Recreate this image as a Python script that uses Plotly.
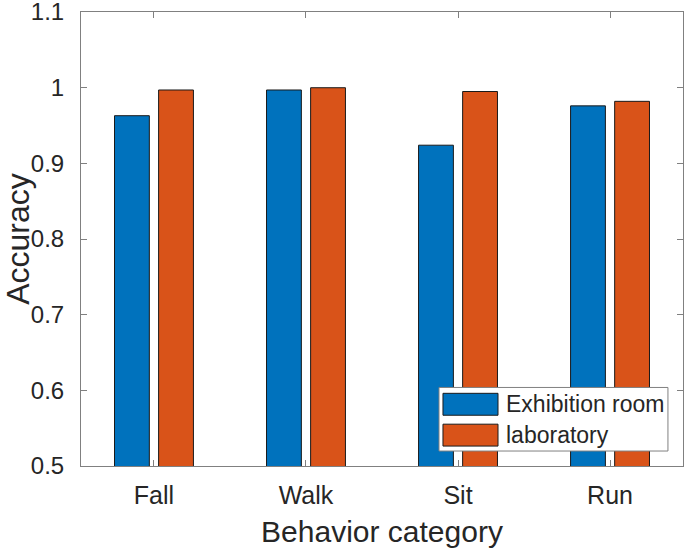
import plotly.graph_objects as go

categories = ["Fall", "Walk", "Sit", "Run"]
exhibition_room = [0.963, 0.997, 0.924, 0.976]
laboratory = [0.997, 1.000, 0.995, 0.982]
series_names = ["Exhibition room", "laboratory"]
y_ticks = [0.5, 0.6, 0.7, 0.8, 0.9, 1.0, 1.1]
y_ticktext = ["0.5", "0.6", "0.7", "0.8", "0.9", "1", "1.1"]

BLUE = "#0072BD"
ORANGE = "#D95319"
AXIS = "#808080"
TEXT = "#262626"
FONT = "Liberation Sans, Arial, sans-serif"

fig = go.Figure()
for name, vals, col in [(series_names[0], exhibition_room, BLUE),
                        (series_names[1], laboratory, ORANGE)]:
    fig.add_trace(go.Bar(
        x=categories, y=vals, name=name,
        marker=dict(color=col, line=dict(color="#1a1a1a", width=1)),
        showlegend=False,
    ))

fig.update_layout(
    width=685, height=551,
    margin=dict(l=81, r=2, t=12, b=85),
    plot_bgcolor="white", paper_bgcolor="white",
    barmode="group", bargap=0.42, bargroupgap=0.21,
    font=dict(family=FONT, color=TEXT, size=24),
)
fig.update_xaxes(
    range=[-0.48, 3.48], automargin=False,
    showline=True, linecolor=AXIS, linewidth=1, mirror="allticks",
    ticks="inside", ticklen=6, tickcolor=AXIS, tickwidth=1,
    tickfont=dict(size=25, color=TEXT, family=FONT),
    ticklabelstandoff=7,
    title=dict(text="Behavior category", font=dict(size=30, color=TEXT, family=FONT), standoff=12),
    showgrid=False, zeroline=False,
)
fig.update_yaxes(
    range=[0.4999, 1.1001], automargin=False,
    tickvals=y_ticks, ticktext=y_ticktext, ticklabeloverflow="allow",
    showline=True, linecolor=AXIS, linewidth=1, mirror="allticks",
    ticks="inside", ticklen=6, tickcolor=AXIS, tickwidth=1,
    tickfont=dict(size=24, color=TEXT, family=FONT),
    ticklabelstandoff=11,
    title=dict(text="Accuracy", font=dict(size=32, color=TEXT, family=FONT), standoff=0),
    showgrid=False, zeroline=False,
)

# legend box (MATLAB style)
shapes = [
    dict(type="rect", xref="paper", yref="paper", x0=0.5947, x1=0.975, y0=0.033, y1=0.173,
         line=dict(color=AXIS, width=1), fillcolor="white", layer="above"),
    dict(type="rect", xref="paper", yref="paper", x0=0.6013, x1=0.6927, y0=0.1118, y1=0.1601,
         line=dict(color="#1a1a1a", width=1), fillcolor=BLUE, layer="above"),
    dict(type="rect", xref="paper", yref="paper", x0=0.6013, x1=0.6927, y0=0.0439, y1=0.0921,
         line=dict(color="#1a1a1a", width=1), fillcolor=ORANGE, layer="above"),
]
fig.update_layout(shapes=shapes)
fig.add_annotation(xref="paper", yref="paper", x=0.7027, y=0.136, text=series_names[0],
                   showarrow=False, xanchor="left", yanchor="middle",
                   font=dict(size=23, color=TEXT, family=FONT))
fig.add_annotation(xref="paper", yref="paper", x=0.7027, y=0.068, text=series_names[1],
                   showarrow=False, xanchor="left", yanchor="middle",
                   font=dict(size=23, color=TEXT, family=FONT))

fig.write_html("out.html", config={"displayModeBar": False},
               post_script="document.body.style.margin='0';document.body.style.overflow='hidden';")
